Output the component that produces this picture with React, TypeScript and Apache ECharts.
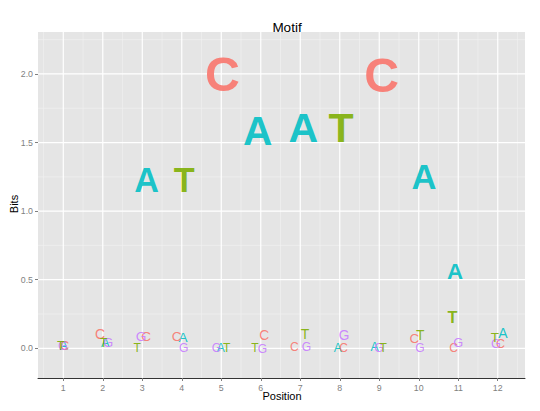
import React, { useEffect, useRef } from "react";
import * as echarts from "echarts";

// Letter positions (x) and information content (bits)
const aPos = [1.01, 2.06, 3.11, 4.03, 4.99, 5.92, 7.08, 7.95, 8.88, 10.13, 10.92, 12.13];
const aBits = [0.02, 0.039, 1.224, 0.08, 0.0, 1.585, 1.603, 0.002, 0.008, 1.246, 0.562, 0.109];
const cPos = [1.04, 1.93, 3.1, 3.87, 5.03, 6.09, 6.85, 8.1, 9.06, 9.89, 10.88, 12.07];
const cBits = [0.02, 0.104, 0.088, 0.088, 1.997, 0.097, 0.006, 0.0, 1.99, 0.075, 0.004, 0.028];
const gPos = [0.99, 2.14, 2.97, 4.05, 4.88, 6.04, 7.16, 8.11, 8.99, 10.03, 11.0, 11.95];
const gBits = [0.02, 0.039, 0.088, 0.004, 0.0, -0.005, 0.006, 0.092, 0.0, 0.0, 0.04, 0.028];
const tPos = [0.94, 2.02, 2.87, 4.06, 5.14, 5.85, 7.12, 8.03, 9.1, 10.04, 10.85, 11.93];
const tBits = [0.02, 0.039, 0.0, 1.224, 0.0, 0.0, 0.106, 1.603, 0.0, 0.097, 0.227, 0.079];

const xTicks = [1, 2, 3, 4, 5, 6, 7, 8, 9, 10, 11, 12];
const xMinor = [0.5, 1.5, 2.5, 3.5, 4.5, 5.5, 6.5, 7.5, 8.5, 9.5, 10.5, 11.5, 12.5];
const yTicks = [0, 0.5, 1, 1.5, 2];
const yMinor = [0.25, 0.75, 1.25, 1.75, 2.25];

const X_MIN = 0.36;
const X_MAX = 12.69;
const Y_MIN = -0.2165;
const Y_MAX = 2.306;

const FONT = "'Liberation Sans', Arial, Helvetica, sans-serif";

const letterDefs = [
  { letter: "A", color: "#00BFC4", pos: aPos, bits: aBits },
  { letter: "C", color: "#F8766D", pos: cPos, bits: cBits },
  { letter: "G", color: "#C77CFF", pos: gPos, bits: gBits },
  { letter: "T", color: "#7CAE00", pos: tPos, bits: tBits },
];

export default function App() {
  const ref = useRef<HTMLDivElement>(null);

  useEffect(() => {
    if (!ref.current) return;
    const chart = echarts.init(ref.current, null, { renderer: "svg" });

    const vLine = (major: boolean) => (params: any, api: any) => {
      const cs = params.coordSys;
      const p = api.coord([api.value(0), Y_MIN]);
      return {
        type: "line",
        shape: { x1: p[0], y1: cs.y, x2: p[0], y2: cs.y + cs.height },
        style: { stroke: major ? "#FFFFFF" : "#F2F2F2", lineWidth: major ? 1.2 : 0.6 },
        silent: true,
      };
    };
    const hLine = (major: boolean) => (params: any, api: any) => {
      const cs = params.coordSys;
      const p = api.coord([X_MIN, api.value(1)]);
      return {
        type: "line",
        shape: { x1: cs.x, y1: p[1], x2: cs.x + cs.width, y2: p[1] },
        style: { stroke: major ? "#FFFFFF" : "#F2F2F2", lineWidth: major ? 1.2 : 0.6 },
        silent: true,
      };
    };

    const gridSeries: any[] = [
      { type: "custom", z: 1, data: xMinor.map((v) => [v, 0]), renderItem: vLine(false), animation: false, silent: true },
      { type: "custom", z: 1, data: yMinor.map((v) => [1, v]), renderItem: hLine(false), animation: false, silent: true },
      { type: "custom", z: 1, data: xTicks.map((v) => [v, 0]), renderItem: vLine(true), animation: false, silent: true },
      { type: "custom", z: 1, data: yTicks.map((v) => [1, v]), renderItem: hLine(true), animation: false, silent: true },
    ];

    const letterSeries = letterDefs.map((d) => ({
      type: "custom",
      name: d.letter,
      z: 3,
      clip: false,
      animation: false,
      data: d.pos.map((x, i) => [x, d.bits[i]]),
      renderItem: (params: any, api: any) => {
        const x = api.value(0);
        const y = api.value(1);
        const p = api.coord([x, y]);
        const cap = 8.8 + 13.2 * Math.max(0, y);
        const fs = cap / 0.729;
        return {
          type: "text",
          x: p[0],
          y: p[1],
          style: {
            text: d.letter,
            fill: d.color,
            fontSize: fs,
            fontWeight: y > 0.15 ? "bold" : "normal",
            fontFamily: FONT,
            align: "center",
            verticalAlign: "middle",
            opacity: 0.9,
          },
        };
      },
    }));

    chart.setOption({
      animation: false,
      title: {
        text: "Motif",
        left: 282,
        top: 15,
        textAlign: "center",
        textStyle: { fontFamily: FONT, fontSize: 13.5, fontWeight: "normal", color: "#000000" },
      },
      grid: {
        left: 38,
        right: 15,
        top: 32,
        bottom: 33,
        show: true,
        backgroundColor: "#E5E5E5",
        borderWidth: 0,
        containLabel: false,
        outerBoundsMode: "none",
      },
      xAxis: {
        type: "value",
        min: X_MIN,
        max: X_MAX,
        axisLine: { show: true, onZero: false, lineStyle: { color: "#333333", width: 1 } },
        axisTick: { show: true, length: 3, customValues: xTicks, lineStyle: { color: "#7F7F7F" } },
        axisLabel: {
          customValues: xTicks,
          margin: 5,
          color: "#7F7F7F",
          fontSize: 8.8,
          fontFamily: FONT,
        },
        splitLine: { show: false },
      },
      yAxis: {
        type: "value",
        min: Y_MIN,
        max: Y_MAX,
        axisLine: { show: false },
        axisTick: { show: true, length: 3, customValues: yTicks, lineStyle: { color: "#7F7F7F" } },
        axisLabel: {
          customValues: yTicks,
          margin: 5,
          color: "#7F7F7F",
          fontSize: 8.8,
          fontFamily: FONT,
          formatter: (v: number) => v.toFixed(1),
        },
        splitLine: { show: false },
      },
      graphic: [
        {
          type: "text",
          x: 282,
          y: 396,
          style: { text: "Position", fontSize: 11, fontFamily: FONT, fill: "#000000", align: "center", verticalAlign: "middle" },
        },
        {
          type: "text",
          x: 14,
          y: 204,
          rotation: Math.PI / 2,
          style: { text: "Bits", fontSize: 11, fontFamily: FONT, fill: "#000000", align: "center", verticalAlign: "middle" },
        },
      ],
      series: [...gridSeries, ...letterSeries],
    });

    return () => chart.dispose();
  }, []);

  return <div ref={ref} style={{ position: "absolute", left: 0, top: 0, width: 540, height: 411 }} />;
}
